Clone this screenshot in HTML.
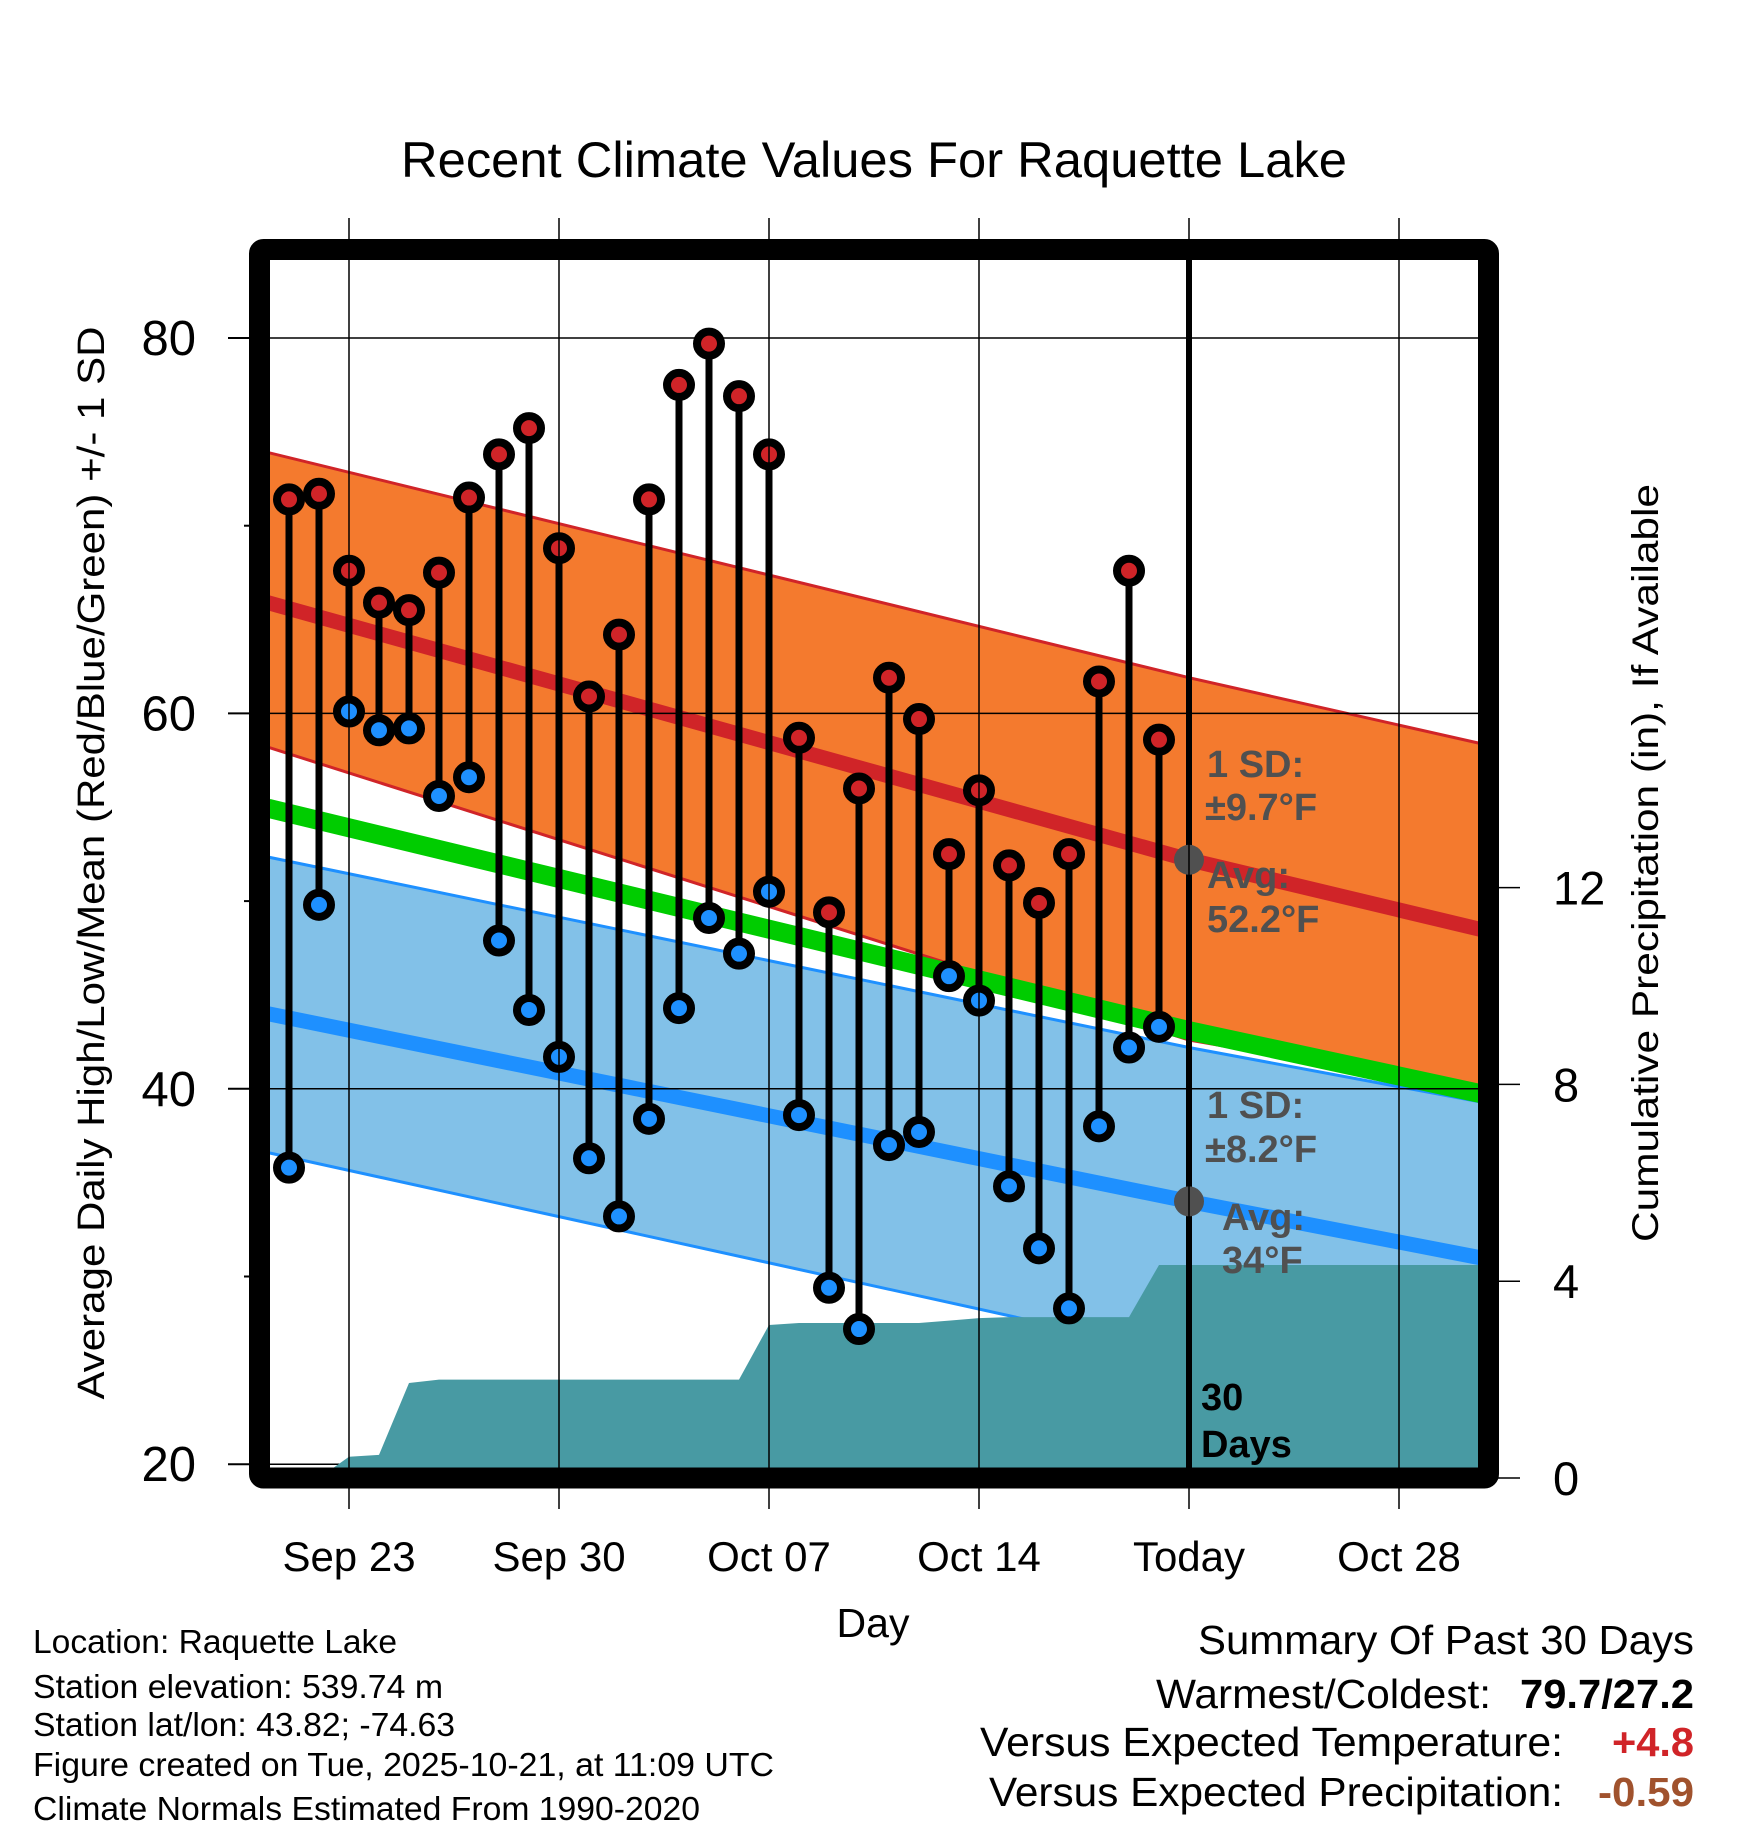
<!DOCTYPE html>
<html><head><meta charset="utf-8">
<style>
html,body{margin:0;padding:0;background:#fff;}
svg{display:block;font-family:"Liberation Sans",Arial,sans-serif;}
</style></head>
<body>
<svg id="chart" width="1748" height="1828" viewBox="0 0 1748 1828" xmlns="http://www.w3.org/2000/svg">
<defs><clipPath id="plotclip"><rect x="270" y="260" width="1208" height="1208"/></clipPath></defs>
<g id="plot" clip-path="url(#plotclip)"></g>
<g id="overlay"></g>
<text x="874" y="177" font-size="50" text-anchor="middle" textLength="946" lengthAdjust="spacingAndGlyphs">Recent Climate Values For Raquette Lake</text>
<text transform="translate(104,863) rotate(-90)" font-size="38" text-anchor="middle" textLength="1073" lengthAdjust="spacingAndGlyphs">Average Daily High/Low/Mean (Red/Blue/Green) +/- 1 SD</text>
<text transform="translate(1658,863) rotate(-90)" font-size="37" text-anchor="middle" textLength="758" lengthAdjust="spacingAndGlyphs">Cumulative Precipitation (in), If Available</text>
<text x="873" y="1637" font-size="41" text-anchor="middle">Day</text>
<g font-size="33" lengthAdjust="spacingAndGlyphs">
<text x="33" y="1653" textLength="364" lengthAdjust="spacingAndGlyphs">Location: Raquette Lake</text>
<text x="33" y="1698" textLength="410" lengthAdjust="spacingAndGlyphs">Station elevation: 539.74 m</text>
<text x="33" y="1736" textLength="422" lengthAdjust="spacingAndGlyphs">Station lat/lon: 43.82; -74.63</text>
<text x="33" y="1776" textLength="741" lengthAdjust="spacingAndGlyphs">Figure created on Tue, 2025-10-21, at 11:09 UTC</text>
<text x="33" y="1820" textLength="667" lengthAdjust="spacingAndGlyphs">Climate Normals Estimated From 1990-2020</text>
</g>
<g font-size="41">
<text x="1198" y="1654" textLength="496" lengthAdjust="spacingAndGlyphs">Summary Of Past 30 Days</text>
<text x="1156" y="1708" textLength="335" lengthAdjust="spacingAndGlyphs">Warmest/Coldest:</text>
<text x="1520" y="1708" font-weight="bold" textLength="174" lengthAdjust="spacingAndGlyphs">79.7/27.2</text>
<text x="980" y="1756" textLength="583" lengthAdjust="spacingAndGlyphs">Versus Expected Temperature:</text>
<text x="1612" y="1756" font-weight="bold" fill="#D02428" textLength="82" lengthAdjust="spacingAndGlyphs">+4.8</text>
<text x="989" y="1806" textLength="574" lengthAdjust="spacingAndGlyphs">Versus Expected Precipitation:</text>
<text x="1598" y="1806" font-weight="bold" fill="#A0522D" textLength="96" lengthAdjust="spacingAndGlyphs">-0.59</text>
</g>
</svg>
<script>
// ---- data ----
const obsDays = [-2,-1,0,1,2,3,4,5,6,7,8,9,10,11,12,13,14,15,16,17,18,19,20,21,22,23,24,25,26,27];
const highs = [71.4,71.7,67.6,65.9,65.5,67.5,71.5,73.8,75.2,68.8,60.9,64.2,71.4,77.5,79.7,76.9,73.8,58.7,49.4,56.0,61.9,59.7,52.5,55.9,51.9,49.9,52.5,61.7,67.6,58.6];
const lows = [35.8,49.8,60.1,59.1,59.2,55.6,56.6,47.9,44.2,41.7,36.3,33.2,38.4,44.3,49.1,47.2,50.5,38.6,29.4,27.2,37.0,37.7,46.0,44.7,34.8,31.5,28.3,38.0,42.2,43.3];
const precipDays = [-2,-1,0,1,2,3,4,5,6,7,8,9,10,11,12,13,14,15,16,17,18,19,20,21,22,23,24,25,26,27,38];
const precipCum = [0,0,0.43,0.47,1.93,2.0,2.0,2.0,2.0,2.0,2.0,2.0,2.0,2.0,2.0,2.0,3.11,3.15,3.15,3.15,3.15,3.15,3.2,3.25,3.27,3.27,3.27,3.27,3.27,4.33,4.33];
const normDays = [-2.7,28,37.7];
const highMean = [65.9,52.2,48.5];
const highUpper = [73.9,61.9,58.4];
const highLower = [58.2,42.6,39.9];
const lowMean = [44.0,34.0,31.0];
const lowUpper = [52.35,42.2,39.3];
const lowLower = [36.6,25.8,22.8];
const meanMean = [54.95,43.1,39.75];
const weekDays = [0,7,14,21,28,35];
const weekLabels = ["Sep 23","Sep 30","Oct 07","Oct 14","Today","Oct 28"];
const tempTicks = [20,40,60,80];
const tempMinor = [30,50,70];
const precipTicks = [0,4,8,12];
const todayDay = 28;
const avgHighToday = 52.2, avgLowToday = 34.0;

// ---- axes ----
const X = d => 349 + 30*d;
const Y = t => 338 + (80 - t)*18.77;
const P = p => 1478 - 49.2*p;

const NS = "http://www.w3.org/2000/svg";
const plot = document.getElementById('plot');
const over = document.getElementById('overlay');
function mk(tag, attrs, parent){ const e=document.createElementNS(NS,tag); for(const k in attrs) e.setAttribute(k,attrs[k]); parent.appendChild(e); return e; }
function pts(days, vals, f){ return days.map((d,i)=>X(d).toFixed(1)+','+f(vals[i]).toFixed(1)); }

let e;
e = mk('polygon',{points: pts(normDays,lowUpper,Y).concat(pts(normDays,lowLower,Y).reverse()).join(' '), fill:'#82C1E8'}, plot);
 
e = mk('polygon',{points: pts(normDays,highUpper,Y).concat(pts(normDays,highLower,Y).reverse()).join(' '), fill:'#F47A2E'}, plot);
 
[[lowUpper,'low-sd-upper'],[lowLower,'low-sd-lower']].forEach(([a,n])=>{
  e = mk('polyline',{points:pts(normDays,a,Y).join(' '),fill:'none',stroke:'#1E90FF','stroke-width':3},plot);
   
});
[[highUpper,'high-sd-upper'],[highLower,'high-sd-lower']].forEach(([a,n])=>{
  e = mk('polyline',{points:pts(normDays,a,Y).join(' '),fill:'none',stroke:'#D02428','stroke-width':3},plot);
   
});
e = mk('polyline',{points:pts(normDays,highMean,Y).join(' '),fill:'none',stroke:'#D02428','stroke-width':15},plot);
 
e = mk('polyline',{points:pts(normDays,lowMean,Y).join(' '),fill:'none',stroke:'#1E90FF','stroke-width':15},plot);
 
e = mk('polyline',{points:pts(normDays,meanMean,Y).join(' '),fill:'none',stroke:'#00CC00','stroke-width':19},plot);
 

tempTicks.forEach(t=>{
  e = mk('line',{x1:270,x2:1478,y1:Y(t),y2:Y(t),stroke:'#000','stroke-width':1.5},plot);
   
});
weekDays.forEach(d=>{
  e = mk('line',{x1:X(d),x2:X(d),y1:218,y2:1509,stroke:'#000','stroke-width':1.5},over);
   
});

const pp = pts(precipDays,precipCum,P);
pp.push(X(precipDays[precipDays.length-1]).toFixed(1)+','+P(0)); pp.push(X(precipDays[0]).toFixed(1)+','+P(0));
e = mk('polygon',{points:pp.join(' '),fill:'#489AA3'},plot);
 

e = mk('line',{x1:X(todayDay),x2:X(todayDay),y1:260,y2:1468,stroke:'#000','stroke-width':6},plot);
 

e = mk('circle',{cx:X(todayDay),cy:Y(avgHighToday),r:15,fill:'#505050'},plot);
 
e = mk('circle',{cx:X(todayDay),cy:Y(avgLowToday),r:15,fill:'#505050'},plot);
 

obsDays.forEach((d,i)=>{
  e = mk('line',{x1:X(d),x2:X(d),y1:Y(highs[i]),y2:Y(lows[i]),stroke:'#000','stroke-width':7},plot);
   
});
obsDays.forEach((d,i)=>{
  e = mk('circle',{cx:X(d),cy:Y(highs[i]),r:12,fill:'#D02428',stroke:'#000','stroke-width':8},plot);
   
  e = mk('circle',{cx:X(d),cy:Y(lows[i]),r:12,fill:'#1E90FF',stroke:'#000','stroke-width':8},plot);
   
});

function txt(x,y,s,attrs,name){ const t=mk('text',Object.assign({x:x,y:y},attrs),plot); t.textContent=s;   return t; }
const ann = {'font-size':38,'font-weight':'bold',fill:'#505050'};
txt(1207,777,'1 SD:',ann,'high-sd-label');
txt(1205,820,'±9.7°F',ann,'high-sd-value');
txt(1207,888,'Avg:',ann,'high-avg-label');
txt(1207,932,'52.2°F',ann,'high-avg-value');
txt(1207,1118,'1 SD:',ann,'low-sd-label');
txt(1205,1162,'±8.2°F',ann,'low-sd-value');
txt(1222,1230,'Avg:',ann,'low-avg-label');
txt(1222,1273,'34°F',ann,'low-avg-value');
const blk = {'font-size':38,'font-weight':'bold',fill:'#000'};
txt(1201,1410,'30',blk,'days-count');
txt(1201,1457,'Days',blk,'days-label');

e = mk('rect',{x:259.5,y:249.5,width:1229,height:1228.5,rx:4,fill:'none',stroke:'#000','stroke-width':21,'stroke-linejoin':'round'},over);
 

tempTicks.forEach(t=>{
  e = mk('line',{x1:228,x2:250,y1:Y(t),y2:Y(t),stroke:'#000','stroke-width':2},over);
   
  const l = mk('text',{x:196,y:Y(t)+17,'font-size':49,'text-anchor':'end'},over); l.textContent=t;
   
});
tempMinor.forEach(t=>{
  e = mk('line',{x1:244,x2:250,y1:Y(t),y2:Y(t),stroke:'#000','stroke-width':2},over);
   
});
precipTicks.forEach(p=>{
  e = mk('line',{x1:1498,x2:1520,y1:P(p),y2:P(p),stroke:'#000','stroke-width':1.5},over);
   
  const l = mk('text',{x:1553,y:P(p)+17,'font-size':47},over); l.textContent=p;
   
});
weekDays.forEach((d,i)=>{
  const l = mk('text',{x:X(d),y:1571,'font-size':42,'text-anchor':'middle'},over); l.textContent=weekLabels[i];
   
});
</script>
</body></html>
